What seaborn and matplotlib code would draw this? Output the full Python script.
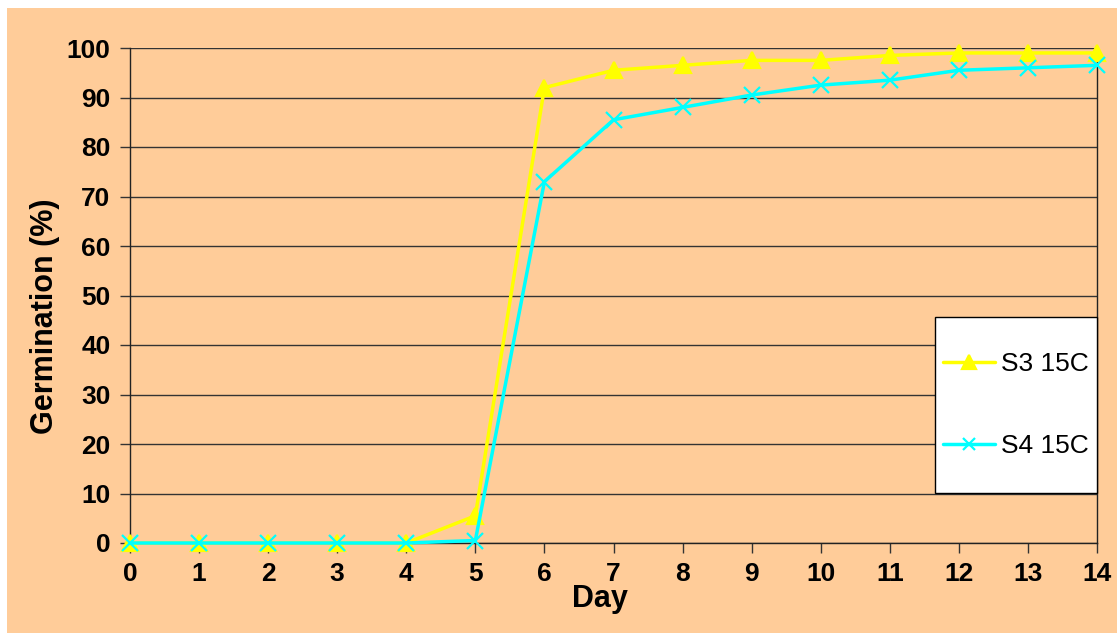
import matplotlib
matplotlib.use("Agg")
import matplotlib.pyplot as plt
import seaborn as sns
import pandas as pd
from matplotlib.patches import Rectangle

# Germination data (percent) by day
days = list(range(15))
s3_15c = [0, 0, 0, 0, 0, 5.5, 92, 95.5, 96.5, 97.5, 97.5, 98.5, 99, 99, 99]
s4_15c = [0, 0, 0, 0, 0, 0.5, 73, 85.5, 88, 90.5, 92.5, 93.5, 95.5, 96, 96.5]
series_names = ["S3 15C", "S4 15C"]
y_ticks = list(range(0, 101, 10))

sns.set_theme(style="white")
plt.rcParams["font.family"] = ["Liberation Sans", "DejaVu Sans"]
plt.rcParams["text.color"] = "black"
plt.rcParams["axes.labelcolor"] = "black"
plt.rcParams["xtick.color"] = "black"
plt.rcParams["ytick.color"] = "black"

bg = "#FFCC99"
fig = plt.figure(figsize=(11.17, 6.33), dpi=100)
fig.patch.set_facecolor("white")
# chart area background
fig.patches.append(Rectangle((7 / 1117, 0), 1 - 7 / 1117, 1 - 8 / 633,
                             transform=fig.transFigure, facecolor=bg,
                             edgecolor="none", zorder=-10))

ax = fig.add_axes([130 / 1117, 1 - 543 / 633, 967 / 1117, 495 / 633])
ax.set_facecolor(bg)

styles = [
    (series_names[0], s3_15c, "#FFFF00", "^", 12),
    (series_names[1], s4_15c, "#00FFFF", "x", 11),
]
for name, values, color, marker, msize in styles:
    frame = pd.DataFrame({"Day": days, "Germination": values})
    sns.lineplot(data=frame, x="Day", y="Germination", color=color,
                 marker=marker, markersize=msize, markeredgewidth=1.6,
                 markeredgecolor=color, linewidth=2.5, label=name,
                 ax=ax, zorder=3, clip_on=False)

ax.set_xlim(0, 14)
ax.set_ylim(0, 100)
ax.set_xticks(days)
ax.set_yticks(y_ticks)
ax.yaxis.grid(True, color="#333333", linewidth=1.0)
ax.xaxis.grid(False)
for side in ["left", "bottom", "right"]:
    ax.spines[side].set_visible(True)
    ax.spines[side].set_color("#222222")
    ax.spines[side].set_linewidth(1.0)
ax.spines["top"].set_visible(False)

ax.tick_params(axis="both", which="major", direction="out", length=7,
               width=1, color="#333333", labelcolor="black", labelsize=19,
               pad=7, left=True, bottom=True)
for lbl in ax.get_xticklabels() + ax.get_yticklabels():
    lbl.set_fontweight("bold")

ax.set_xlabel("Day", fontsize=22, fontweight="bold")
ax.set_ylabel("Germination (%)", fontsize=22, fontweight="bold")
ax.xaxis.set_label_coords(0.486, -0.083)
ax.yaxis.set_label_coords(-0.072, 0.459)

# legend box
box_x0, box_x1, box_y0, box_y1 = 0.8325, 1.0, 0.101, 0.4566
ax.add_patch(Rectangle((box_x0, box_y0), box_x1 - box_x0, box_y1 - box_y0,
                       transform=ax.transAxes, facecolor="white",
                       edgecolor="black", linewidth=1.0, zorder=4,
                       clip_on=False))
handles, labels = ax.get_legend_handles_labels()
leg = ax.legend(handles, labels, loc="center",
                bbox_to_anchor=((box_x0 + box_x1) / 2, (box_y0 + box_y1) / 2),
                borderaxespad=0, frameon=False, fontsize=19,
                labelspacing=2.2, borderpad=0, handlelength=1.95,
                handletextpad=0.25, markerscale=0.85)
leg.set_zorder(5)

fig.savefig("out.png", dpi=100, facecolor=fig.get_facecolor())
